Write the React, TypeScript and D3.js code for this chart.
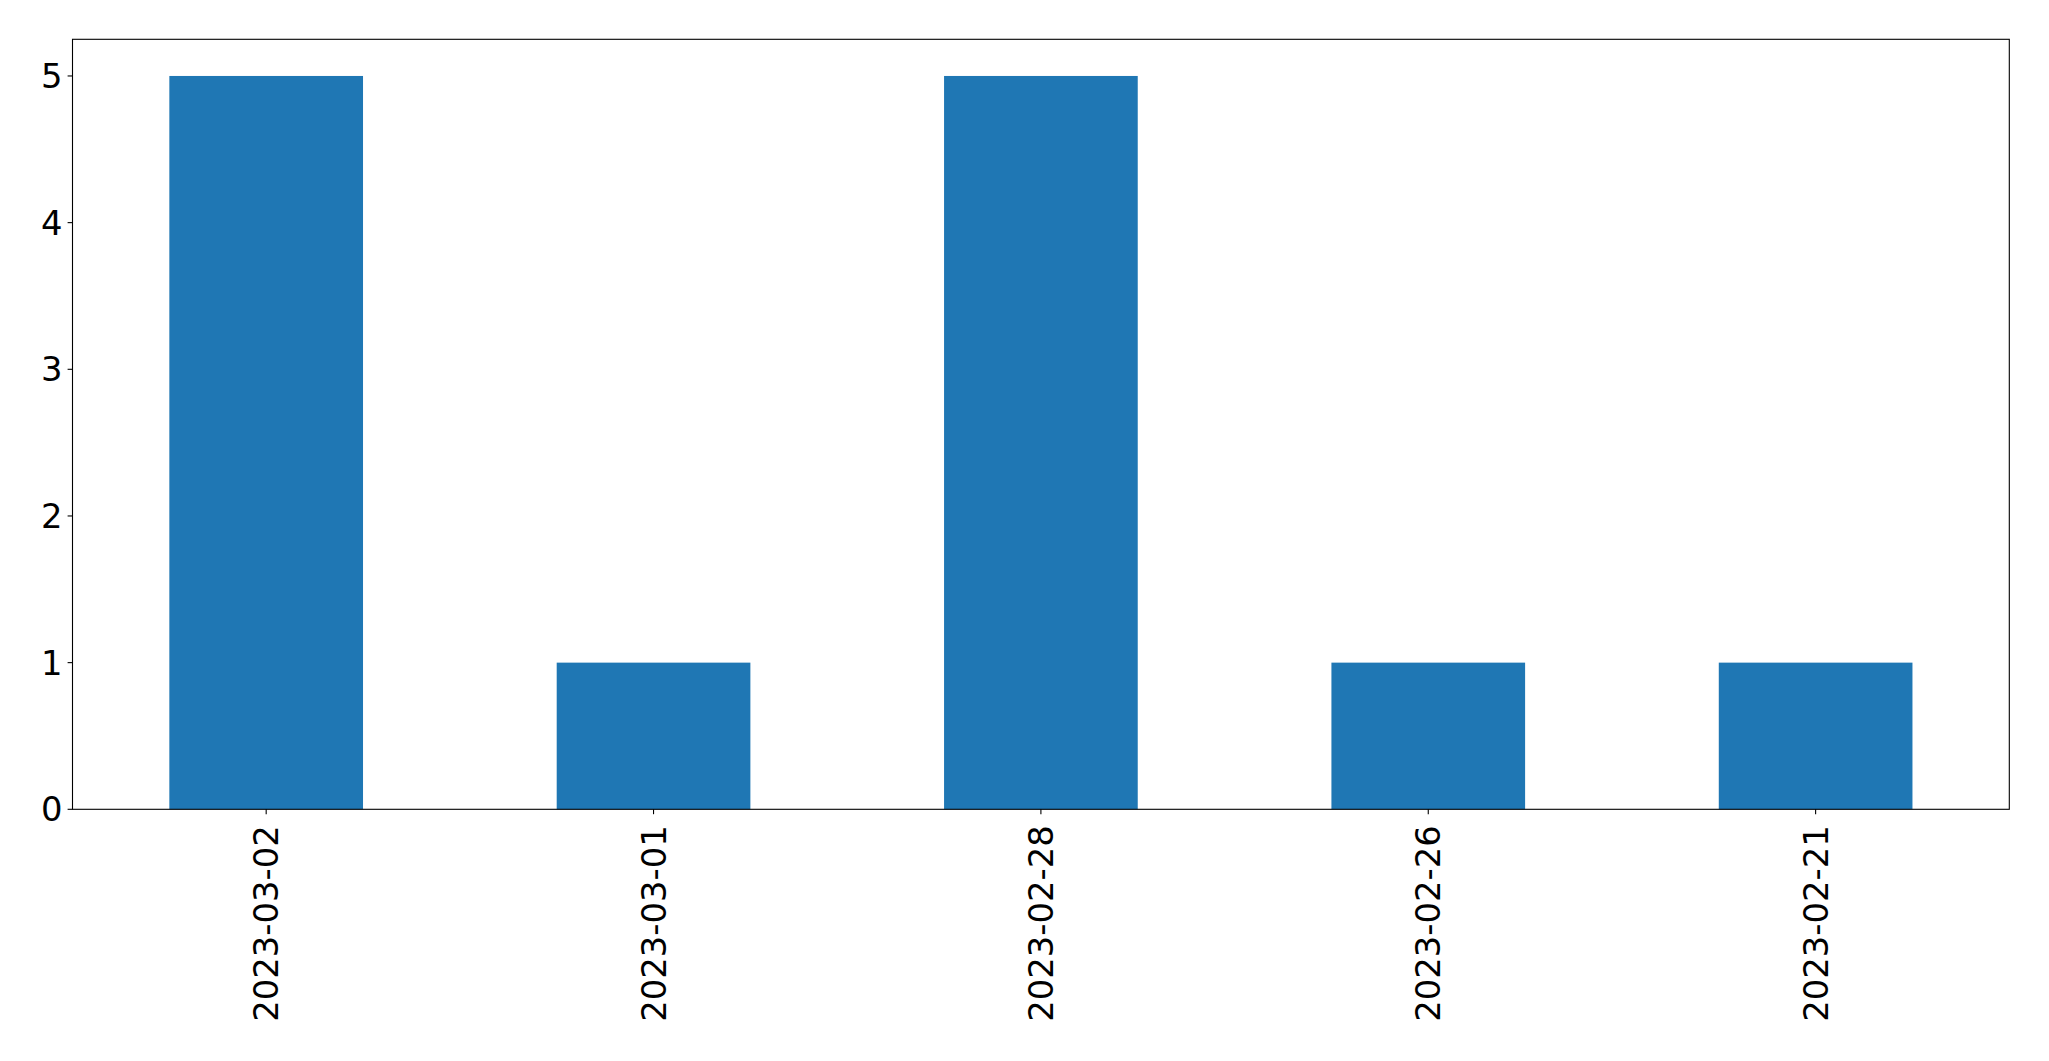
import React from "react";
import * as d3 from "d3";

const categories = ["2023-03-02", "2023-03-01", "2023-02-28", "2023-02-26", "2023-02-21"];
const counts = [5, 1, 5, 1, 1];
const yTicks = [0, 1, 2, 3, 4, 5];

const W = 2049;
const H = 1061;
const left = 72.5;
const right = 2009.3;
const top = 39.3;
const bottom = 809.3;
const FONT = "'DejaVu Sans', sans-serif";
const FS = 33.8;

export default function App() {
  const x = d3.scaleLinear().domain([-0.5, categories.length - 0.5]).range([left, right]);
  const y = d3.scaleLinear().domain([0, d3.max(counts)! * 1.05]).range([bottom, top]);
  const bw = x(0.25) - x(-0.25);
  return (
    <svg
      width={W}
      height={H}
      style={{ position: "absolute", left: 0, top: 0, background: "#fff" }}
    >
      <rect x={0} y={0} width={W} height={H} fill="#fff" />
      {counts.map((v, i) => (
        <rect
          key={i}
          x={x(i) - bw / 2}
          y={y(v)}
          width={bw}
          height={y(0) - y(v)}
          fill="#1f77b4"
        />
      ))}
      <rect
        x={left}
        y={top}
        width={right - left}
        height={bottom - top}
        fill="none"
        stroke="#000"
        strokeWidth={1.1}
      />
      {yTicks.map((t) => (
        <g key={t}>
          <line x1={left - 4.9} x2={left} y1={y(t)} y2={y(t)} stroke="#000" strokeWidth={1.1} />
          <text
            x={left - 10}
            y={y(t)}
            dy="0.36em"
            textAnchor="end"
            fontFamily={FONT}
            fontSize={FS}
            fill="#000"
          >
            {t}
          </text>
        </g>
      ))}
      {categories.map((c, i) => (
        <g key={c}>
          <line x1={x(i)} x2={x(i)} y1={bottom} y2={bottom + 4.9} stroke="#000" strokeWidth={1.1} />
          <text
            transform={`translate(${x(i)},${bottom + 16}) rotate(-90)`}
            dy="0.36em"
            textAnchor="end"
            fontFamily={FONT}
            fontSize={FS}
            fill="#000"
          >
            {c}
          </text>
        </g>
      ))}
    </svg>
  );
}
